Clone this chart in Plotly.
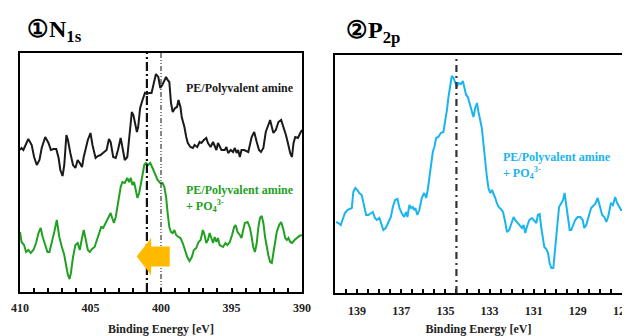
import plotly.graph_objects as go

# ---------------- Data ----------------
# N1s, PE/Polyvalent amine (black)
n1s_amine_E = [410.0, 409.89, 409.76, 409.53, 409.41, 409.17, 409.0, 408.81, 408.62, 408.46,
               408.21, 407.98, 407.81, 407.62, 407.43, 407.26, 407.14, 406.98, 406.86, 406.71,
               406.6, 406.43, 406.24, 406.07, 405.91, 405.76, 405.6, 405.48, 405.36, 405.19,
               405.0, 404.86, 404.64, 404.48, 404.29, 404.05, 403.86, 403.69, 403.57, 403.39,
               403.21, 403.05, 402.86, 402.74, 402.57, 402.39, 402.19, 402.07, 401.96, 401.84,
               401.71, 401.62, 401.48, 401.31, 401.14, 401.0, 400.84, 400.67, 400.48, 400.36,
               400.19, 400.05, 399.91, 399.76, 399.64, 399.53, 399.41, 399.29, 399.17, 399.0,
               398.86, 398.76, 398.62, 398.53, 398.34, 398.21, 398.1, 397.91, 397.74, 397.62,
               397.43, 397.26, 397.14, 396.96, 396.79, 396.67, 396.48, 396.31, 396.07, 395.96,
               395.71, 395.48, 395.36, 395.24, 395.05, 394.89, 394.76, 394.64, 394.53, 394.41,
               394.29, 394.1, 393.81, 393.57, 393.39, 393.21, 393.05, 392.91, 392.74, 392.57,
               392.39, 392.26, 392.14, 392.03, 391.86, 391.67, 391.48, 391.31, 391.14, 391.0,
               390.84, 390.71, 390.6, 390.48, 390.29, 390.12, 390.0]
n1s_amine_I = [142, 144, 142, 150, 153, 147, 135, 127, 132, 144,
               155, 149, 142, 143, 143, 134, 122, 116, 127, 157,
               152, 139, 127, 124, 132, 129, 125, 135, 142, 152,
               159, 147, 134, 136, 137, 140, 142, 153, 150, 135,
               134, 142, 154, 145, 132, 135, 162, 180, 177, 167,
               160, 165, 184, 192, 199, 198, 199, 199, 212, 218,
               215, 204, 207, 212, 215, 212, 210, 189, 180, 184,
               185, 192, 185, 175, 165, 155, 149, 145, 144, 147,
               145, 150, 149, 152, 154, 149, 145, 150, 142, 149,
               142, 142, 145, 139, 142, 140, 144, 139, 142, 135,
               142, 142, 140, 155, 160, 150, 142, 140, 144, 160,
               167, 172, 165, 159, 162, 170, 172, 165, 157, 149,
               139, 135, 149, 155, 154, 159, 162]

# N1s, PE/Polyvalent amine + PO4 3- (green)
n1s_po4_E = [410.0, 409.89, 409.71, 409.57, 409.41, 409.24, 409.05, 408.86, 408.69, 408.53,
             408.39, 408.21, 408.05, 407.91, 407.74, 407.57, 407.39, 407.21, 407.03, 406.86,
             406.71, 406.6, 406.48, 406.39, 406.24, 406.07, 405.91, 405.76, 405.6, 405.48,
             405.36, 405.19, 405.05, 404.89, 404.71, 404.53, 404.34, 404.24, 404.1, 403.93,
             403.76, 403.57, 403.46, 403.34, 403.21, 403.1, 402.98, 402.86, 402.74, 402.57,
             402.39, 402.26, 402.14, 402.03, 401.91, 401.79, 401.67, 401.55, 401.43, 401.31,
             401.19, 401.07, 400.91, 400.76, 400.6, 400.43, 400.24, 400.05, 399.89, 399.76,
             399.64, 399.53, 399.41, 399.29, 399.17, 399.05, 398.93, 398.76, 398.62, 398.46,
             398.29, 398.14, 397.98, 397.81, 397.67, 397.5, 397.34, 397.19, 397.03, 396.91,
             396.79, 396.67, 396.55, 396.43, 396.31, 396.19, 396.07, 395.96, 395.84, 395.6,
             395.43, 395.29, 395.12, 394.96, 394.81, 394.71, 394.57, 394.41, 394.29, 394.17,
             394.05, 393.86, 393.69, 393.57, 393.46, 393.34, 393.21, 393.1, 392.98, 392.86,
             392.74, 392.62, 392.5, 392.39, 392.26, 392.14, 392.03, 391.91, 391.79, 391.62,
             391.48, 391.31, 391.19, 391.07, 390.96, 390.84, 390.71, 390.53, 390.36, 390.19,
             390.0]
n1s_po4_I = [60, 50, 47, 40, 42, 39, 42, 49, 59, 64,
             55, 47, 40, 40, 49, 60, 72, 55, 45, 37,
             25, 17, 13, 19, 35, 47, 49, 42, 54, 62,
             54, 42, 40, 43, 45, 52, 60, 65, 64, 69,
             74, 79, 74, 69, 75, 85, 95, 105, 110, 109,
             114, 110, 114, 107, 110, 102, 94, 99, 107, 117,
             127, 129, 127, 129, 124, 119, 112, 109, 109, 105,
             95, 79, 65, 60, 59, 62, 57, 55, 54, 49,
             42, 35, 31, 35, 42, 44, 50, 52, 62, 57,
             49, 52, 59, 54, 49, 55, 50, 54, 47, 45,
             49, 47, 50, 57, 65, 67, 60, 57, 54, 62,
             69, 70, 64, 55, 45, 40, 49, 64, 74, 76,
             69, 55, 45, 37, 30, 29, 39, 50, 60, 67,
             70, 62, 54, 52, 54, 50, 49, 52, 54, 56,
             57]

# P2p, PE/Polyvalent amine + PO4 3- (blue)
p2p_E = [139.95, 139.85, 139.74, 139.65, 139.55, 139.44, 139.32, 139.24, 139.17, 139.08,
         138.99, 138.9, 138.79, 138.72, 138.59, 138.49, 138.38, 138.29, 138.19, 138.11,
         137.99, 137.91, 137.81, 137.7, 137.58, 137.47, 137.38, 137.28, 137.17, 137.08,
         136.98, 136.87, 136.78, 136.72, 136.63, 136.55, 136.48, 136.42, 136.36, 136.27,
         136.18, 136.07, 135.96, 135.87, 135.8, 135.72, 135.65, 135.57, 135.5, 135.42,
         135.32, 135.21, 135.09, 135.01, 134.93, 134.86, 134.78, 134.71, 134.63, 134.56,
         134.48, 134.41, 134.3, 134.21, 134.14, 134.06, 133.98, 133.91, 133.8, 133.73,
         133.65, 133.57, 133.5, 133.42, 133.35, 133.27, 133.2, 133.12, 133.05, 132.97,
         132.89, 132.82, 132.74, 132.67, 132.59, 132.49, 132.39, 132.29, 132.21, 132.11,
         131.99, 131.91, 131.84, 131.73, 131.64, 131.53, 131.46, 131.38, 131.31, 131.2,
         131.08, 130.98, 130.88, 130.81, 130.73, 130.66, 130.58, 130.52, 130.43, 130.35,
         130.28, 130.2, 130.11, 130.02, 129.95, 129.85, 129.76, 129.67, 129.6, 129.52,
         129.45, 129.37, 129.3, 129.22, 129.12, 129.01, 128.89, 128.78, 128.71, 128.62,
         128.51, 128.4, 128.31, 128.21, 128.1, 128.01, 127.9, 127.8, 127.71, 127.63,
         127.56, 127.5, 127.41, 127.31, 127.22, 127.13, 127.04, 127.0]
p2p_I = [71, 70, 68, 73, 80, 83, 84, 85, 101, 105,
         103, 100, 98, 91, 78, 78, 80, 81, 75, 73,
         75, 70, 63, 65, 71, 76, 86, 93, 94, 85,
         80, 76, 81, 76, 88, 85, 86, 83, 85, 78,
         83, 95, 100, 95, 103, 116, 130, 141, 146, 155,
         156, 160, 161, 171, 183, 196, 210, 217, 215, 211,
         206, 210, 209, 212, 206, 198, 196, 190, 181, 176,
         185, 190, 181, 173, 165, 148, 131, 116, 105, 100,
         103, 100, 95, 90, 86, 84, 81, 71, 61, 63,
         71, 76, 73, 70, 68, 65, 68, 60, 66, 73,
         75, 73, 70, 78, 79, 66, 56, 46, 44, 40,
         30, 25, 25, 43, 63, 86, 90, 93, 100, 88,
         73, 63, 63, 68, 73, 76, 76, 73, 65, 68,
         76, 85, 87, 89, 95, 86, 78, 76, 71, 76,
         86, 90, 88, 96, 90, 86, 83, 83]

N1S_REF_LINES = [401.0, 400.0]
P2P_REF_LINE = 134.5
ARROW_TIP, ARROW_NECK, ARROW_TAIL = 401.73, 400.7, 399.38
ARROW_Y, ARROW_HALF_HEAD, ARROW_HALF_SHAFT = 35.5, 18.5, 10

LABEL_AMINE = "PE/Polyvalent amine"
LABEL_PO4 = "PE/Polyvalent amine<br>+ PO<sub>4</sub><sup>3-</sup>"
X_TITLE = "Binding Energy [eV]"

BLACK = "#1a1a1a"
GREEN = "#22a022"
BLUE = "#1ab4f0"
ORANGE = "#ffbb00"
FONT = "Liberation Serif, Times New Roman, serif"

# The page body has an 8px margin, so the figure is drawn 8px in from the
# window's top-left corner; size and positions compensate for it.
PAGE_OFF = 8
W, H = 630 - PAGE_OFF, 336 - PAGE_OFF

fig = go.Figure()
fig.add_trace(go.Scatter(x=n1s_amine_E, y=n1s_amine_I, mode="lines",
                         line=dict(color=BLACK, width=2), xaxis="x", yaxis="y"))
fig.add_trace(go.Scatter(x=n1s_po4_E, y=n1s_po4_I, mode="lines",
                         line=dict(color=GREEN, width=2), xaxis="x", yaxis="y"))
fig.add_trace(go.Scatter(x=p2p_E, y=p2p_I, mode="lines",
                         line=dict(color=BLUE, width=2), xaxis="x2", yaxis="y2"))

def fx(px):
    return (px - PAGE_OFF) / W

def fy(py):
    return 1 - (py - PAGE_OFF) / H

line_common = dict(showline=True, linecolor="black", linewidth=2, mirror=True,
                   showgrid=False, zeroline=False, automargin=False)
tick_font = dict(family=FONT, size=12, color="#222", weight="bold")

fig.update_layout(
    width=W, height=H, margin=dict(l=0, r=0, t=0, b=0),
    paper_bgcolor="white", plot_bgcolor="white", showlegend=False,
    xaxis=dict(domain=[fx(20), fx(302)], range=[410, 390], dtick=5, tick0=390,
               ticks="inside", ticklen=4, tickwidth=1.5, tickcolor="black",
               tickfont=tick_font, ticklabelstandoff=4, ticklabeloverflow="allow",
               minor=dict(dtick=1, ticks="inside", ticklen=4, tickcolor="black", tickwidth=1.5),
               title=dict(text=X_TITLE, standoff=10, font=tick_font), anchor="y", **line_common),
    yaxis=dict(domain=[fy(292), fy(53)], range=[0, 239], showticklabels=False,
               ticks="", anchor="x", **line_common),
    xaxis2=dict(domain=[fx(335), fx(622)], range=[140, 127], dtick=2, tick0=127,
                ticks="inside", ticklen=4, tickwidth=1.5, tickcolor="black",
                tickfont=tick_font, ticklabelstandoff=6, ticklabeloverflow="allow",
                minor=dict(dtick=0.5, ticks="inside", ticklen=4, tickcolor="black", tickwidth=1.5),
                title=dict(text=X_TITLE, standoff=9, font=tick_font), anchor="y2", **line_common),
    yaxis2=dict(domain=[fy(293), fy(55)], range=[0, 238], showticklabels=False,
                ticks="", anchor="x2", **line_common),
)

# reference lines
fig.add_shape(type="line", xref="x", yref="y domain", x0=N1S_REF_LINES[0], x1=N1S_REF_LINES[0],
              y0=0, y1=1, line=dict(color="#111", width=2.2, dash="9px,3px,2px,3px"))
fig.add_shape(type="line", xref="x", yref="y domain", x0=N1S_REF_LINES[1], x1=N1S_REF_LINES[1],
              y0=0, y1=1, line=dict(color="#111", width=1, dash="5px,2px,1px,2px,1px,2px"))
fig.add_shape(type="line", xref="x2", yref="y2 domain", x0=P2P_REF_LINE, x1=P2P_REF_LINE,
              y0=0, y1=1, line=dict(color="#333", width=2.2, dash="7px,4px,2px,4px"))

# block arrow
path = (f"M {ARROW_TIP},{ARROW_Y} "
        f"L {ARROW_NECK},{ARROW_Y + ARROW_HALF_HEAD} "
        f"L {ARROW_NECK},{ARROW_Y + ARROW_HALF_SHAFT} "
        f"L {ARROW_TAIL},{ARROW_Y + ARROW_HALF_SHAFT} "
        f"L {ARROW_TAIL},{ARROW_Y - ARROW_HALF_SHAFT} "
        f"L {ARROW_NECK},{ARROW_Y - ARROW_HALF_SHAFT} "
        f"L {ARROW_NECK},{ARROW_Y - ARROW_HALF_HEAD} Z")
fig.add_shape(type="path", xref="x", yref="y", path=path,
              fillcolor=ORANGE, line=dict(width=0))

# labels
fig.add_annotation(xref="paper", yref="paper", x=fx(184), y=fy(88),
                   xanchor="left", yanchor="middle", showarrow=False,
                   text=f"<b>{LABEL_AMINE}</b>",
                   font=dict(family=FONT, size=12, color=BLACK))
fig.add_annotation(xref="paper", yref="paper", x=fx(184), y=fy(198),
                   xanchor="left", yanchor="middle", showarrow=False, align="left",
                   text=f"<b>{LABEL_PO4}</b>",
                   font=dict(family=FONT, size=12, color=GREEN))
fig.add_annotation(xref="paper", yref="paper", x=fx(501), y=fy(165),
                   xanchor="left", yanchor="middle", showarrow=False, align="left",
                   text=f"<b>{LABEL_PO4}</b>",
                   font=dict(family=FONT, size=12, color=BLUE))

# panel titles
fig.add_annotation(xref="paper", yref="paper", x=fx(25), y=fy(31),
                   xanchor="left", yanchor="middle", showarrow=False,
                   text="<b>①N<sub>1s</sub></b>",
                   font=dict(family=FONT, size=24, color="black"))
fig.add_annotation(xref="paper", yref="paper", x=fx(344), y=fy(32),
                   xanchor="left", yanchor="middle", showarrow=False,
                   text="<b>②P<sub>2p</sub></b>",
                   font=dict(family=FONT, size=24, color="black"))

fig.write_html("out.html")
